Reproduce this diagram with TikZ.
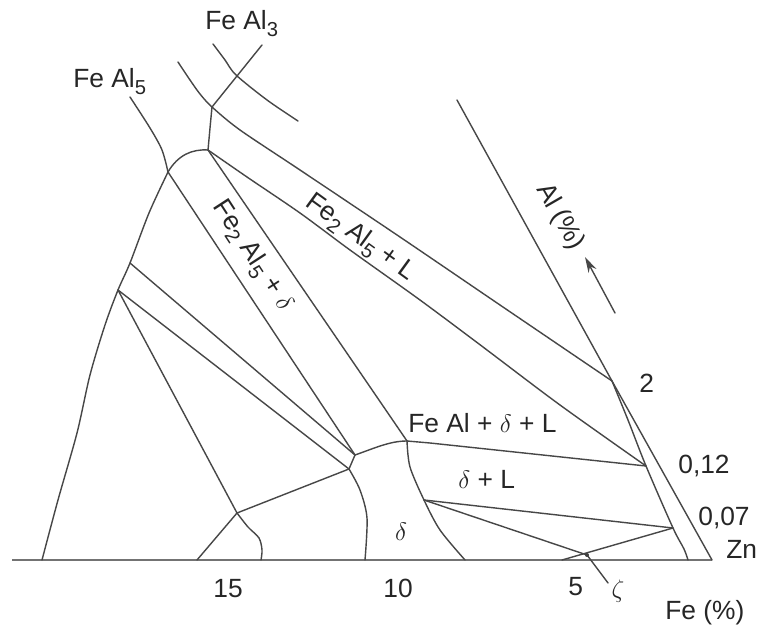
\documentclass[tikz,border=0pt]{standalone}
\usepackage{fontspec}
\setmainfont{Liberation Sans}
\usetikzlibrary{arrows.meta}
\newcommand\lowsub[1]{\raisebox{-0.45ex}{\fontsize{11.5}{12}\selectfont #1}}
\begin{document}
\begin{tikzpicture}[x=0.02cm,y=-0.02cm,
  ph/.style={draw=black!72, line width=0.8pt, line join=round, line cap=round},
  basel/.style={draw=black!55, line width=1.4pt},
  lbl/.style={inner sep=0pt, text=black!85, font=\fontsize{15}{17}\selectfont},
]
\useasboundingbox (0,0) rectangle (761,628);
\fill[white] (0,0) rectangle (761,628);
% key points
\coordinate (bl) at (12,560);
\coordinate (zn) at (712,560);
\coordinate (axt) at (457,100);
\coordinate (p2) at (612,381);
\coordinate (a1) at (208,150);
\coordinate (a2) at (212,107);
\coordinate (a3) at (168,172);
\coordinate (f5) at (130,97);
\coordinate (f3a) at (262,45);
\coordinate (f3b) at (213,44);
\coordinate (f3c) at (298,121);
\coordinate (u0) at (178,62);
\coordinate (j1) at (355,455);
\coordinate (j2) at (349,469);
\coordinate (k) at (407,441);
\coordinate (t1) at (646,466);
\coordinate (t2) at (673,528);
\coordinate (l1) at (130,263);
\coordinate (l2) at (118,290);
\coordinate (g) at (237,513);
\coordinate (d1) at (424,500);
\coordinate (z) at (587,555);
\coordinate (ie) at (688,560);
\coordinate (ol) at (42,560);
\coordinate (gl) at (197,560);
\coordinate (gr) at (261,560);
\coordinate (dl) at (365,560);
\coordinate (dr) at (465,560);
\coordinate (zb) at (562,560);
\coordinate (zt) at (608,583);
\coordinate (arT) at (585,257);
\coordinate (arB) at (615,313);
% base line and Al axis
\draw[basel] (bl) -- (zn);
\draw[ph] (axt) -- (p2) -- (zn);
\draw[ph] plot[smooth] coordinates {(p2) (628,420) (t1) (t2) (684,549) (ie)};
\draw[ph, -{Stealth[length=9pt,width=5pt]}] (arB) -- (arT);
% outer boundary
\draw[ph] plot[smooth] coordinates {(a3) (149,213) (l1) (l2) (105,325) (90,375) (77,433) (58,500) (ol)};
\draw[ph] plot[smooth] coordinates {(f5) (150,128) (162,150) (a3)};
\draw[ph] (a3) .. controls (178,155) and (192,149) .. (a1);
\draw[ph] (a1) -- (210,128) -- (a2) -- (f3a);
\draw[ph] plot[smooth] coordinates {(f3b) (225,60) (236,75) (267,100) (f3c)};
% Fe2Al5 + L band
\draw[ph] plot[smooth] coordinates {(u0) (190,80) (200,94) (a2) (240,130) (300,170) (400,237) (500,305) (p2)};
\draw[ph] plot[smooth] coordinates {(a1) (247,177) (300,213) (350,250) (420,300) (483,347) (560,405) (t1)};
% Fe2Al5 + delta band
\draw[ph] (a3) -- (j1);
\draw[ph] (a1) -- (k);
% thin band and left lines
\draw[ph] (l1) -- (j1);
\draw[ph] (l2) -- (j2);
\draw[ph] (l2) -- (g);
\draw[ph] (j1) -- (j2);
\draw[ph] (j2) -- (g);
\draw[ph] (j1) .. controls (375,448) and (390,441) .. (k);
\draw[ph] (k) -- (430,443) -- (t1);
% delta region
\draw[ph] plot[smooth] coordinates {(k) (410,467) (d1) (440,530) (dr)};
\draw[ph] plot[smooth] coordinates {(j2) (360,490) (367,518) (dl)};
\draw[ph] (d1) -- (t2);
\draw[ph] (d1) -- (z);
\draw[ph] (zb) -- (t2);
\draw[ph] (z) -- (zt);
\fill[black!75] (z) circle (2);
% Gamma
\draw[ph] (g) -- (gl);
\draw[ph] plot[smooth] coordinates {(g) (248,527) (259,538) (262,550) (gr)};
% labels
\node[lbl, anchor=base west] (lfe3) at (205,30) {Fe Al\lowsub{3}};
\node[lbl, anchor=base west] (lfe5) at (73,88) {Fe Al\lowsub{5}};
\node[lbl, rotate=-36] (lband1) at (360,238) {Fe\lowsub{2} Al\lowsub{5} + L};
\node[lbl, rotate=-57] (lband2) at (252,256) {Fe\lowsub{2} Al\lowsub{5} + $\delta$};
\node[lbl, rotate=-60] (lal) at (560,217) {Al (\%)};
\node[lbl, anchor=base west] (l2) at (639,393) {2};
\node[lbl, anchor=base west] (l012) at (678,473) {0,12};
\node[lbl, anchor=base west] (l007) at (698,525) {0,07};
\node[lbl, anchor=base west] (lzn) at (726,558) {Zn};
\node[lbl, anchor=base west] (l15) at (213,597) {15};
\node[lbl, anchor=base west] (l10) at (383,597) {10};
\node[lbl, anchor=base west] (l5) at (568,595) {5};
\node[lbl, anchor=base west] (lfe) at (665,619) {Fe (\%)};
\node[lbl, anchor=base west] (lfeal) at (408,432) {Fe Al + $\delta$ + L};
\node[lbl, anchor=base west] (ldl) at (458,488) {$\delta$ + L};
\node[lbl] (ld) at (401,532) {$\delta$};
\node[lbl] (lg) at (235,544) {$\mathit{\Gamma}$};
\node[lbl] (lz) at (618,591) {$\zeta$};
\end{tikzpicture}
\end{document}
